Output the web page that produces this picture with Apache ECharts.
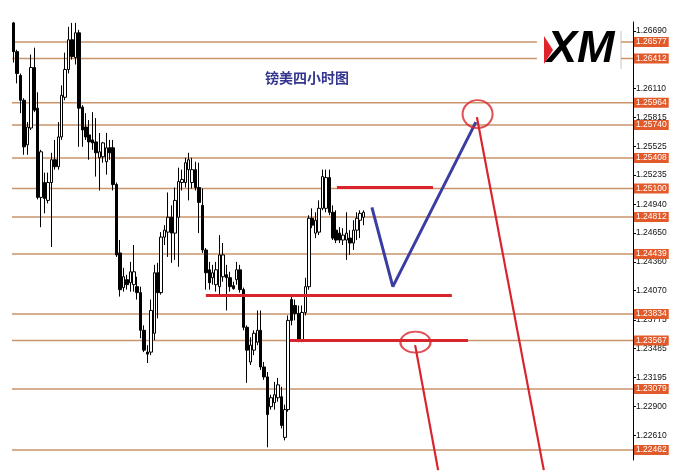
<!DOCTYPE html>
<html><head><meta charset="utf-8">
<script src="https://cdn.jsdelivr.net/npm/echarts@6/dist/echarts.min.js"></script>
<style>html,body{margin:0;padding:0;background:#fff}#c{width:679px;height:476px}</style>
</head><body><div id="c"></div>
<script>
// ---- candle data (GBP/USD, 4-hour) ----
const opens=[1.2677,1.2648,1.2624,1.2599,1.2554,1.2571,1.2632,1.2591,1.2501,1.2516,
1.2498,1.2516,1.2539,1.2532,1.2562,1.2602,1.2630,1.2660,1.2642,1.2667,
1.2592,1.2572,1.2564,1.2559,1.2557,1.2541,1.2542,1.2537,1.2551,1.2551,
1.2514,1.2445,1.2410,1.2418,1.2415,1.2413,1.2411,1.2405,1.2367,1.2345,
1.2345,1.2364,1.2425,1.2405,1.2461,1.2466,1.2481,1.2465,1.2481,1.2516,
1.2516,1.2529,1.2516,1.2529,1.2511,1.2493,1.2448,1.2428,1.2420,1.2413,
1.2411,1.2421,1.2423,1.2420,1.2412,1.2418,1.2428,1.2408,1.2370,1.2335,
1.2347,1.2355,1.2367,1.2330,1.2320,1.2290,1.2294,1.2299,1.2300,1.2259,
1.2287,1.2398,1.2392,1.2384,1.2357,1.2385,1.2411,1.2480,1.2465,1.2466,
1.2490,1.2490,1.2521,1.2486,1.2468,1.2465,1.2458,1.2458,1.2460,1.2455,
1.2468,1.2478,1.2481];
const closes=[1.2648,1.2626,1.2599,1.2552,1.2572,1.2632,1.2589,1.2501,1.2547,1.2500,
1.2516,1.2539,1.2532,1.2562,1.2604,1.2630,1.2660,1.2643,1.2667,1.2591,
1.2569,1.2562,1.2557,1.2556,1.2546,1.2547,1.2556,1.2551,1.2546,1.2514,
1.2443,1.2408,1.2421,1.2413,1.2426,1.2426,1.2405,1.2367,1.2347,1.2343,
1.2387,1.2425,1.2405,1.2461,1.2468,1.2481,1.2465,1.2498,1.2517,1.2519,
1.2536,1.2539,1.2529,1.2511,1.2496,1.2448,1.2425,1.2415,1.2425,1.2428,
1.2443,1.2443,1.2420,1.2411,1.2409,1.2428,1.2408,1.2370,1.2347,1.2352,
1.2364,1.2367,1.2330,1.2320,1.2282,1.2299,1.2302,1.2312,1.2271,1.2287,
1.2377,1.2377,1.2384,1.2357,1.2385,1.2411,1.2480,1.2473,1.2478,1.2490,
1.2522,1.2521,1.2486,1.2460,1.2458,1.2458,1.2463,1.2465,1.2455,1.2468,
1.2480,1.2485,1.2486];
const lows=[1.2637,1.2616,1.2586,1.2544,1.2544,1.2569,1.2587,1.2499,1.2471,1.2485,
1.2495,1.2451,1.2529,1.2529,1.2559,1.2599,1.2626,1.2640,1.2635,1.2552,
1.2552,1.2559,1.2539,1.2549,1.2522,1.2508,1.2536,1.2524,1.2539,1.2508,
1.2441,1.2401,1.2406,1.2408,1.2406,1.2406,1.2398,1.2359,1.2345,1.2334,
1.2342,1.2357,1.2379,1.2403,1.2453,1.2441,1.2435,1.2438,1.2431,1.2508,
1.2511,1.2498,1.2510,1.2508,1.2465,1.2445,1.2408,1.2408,1.2413,1.2406,
1.2403,1.2416,1.2387,1.2406,1.2408,1.2413,1.2405,1.2367,1.2314,1.2332,
1.2342,1.2352,1.2327,1.2317,1.2249,1.2287,1.2287,1.2295,1.2268,1.2256,
1.2285,1.2372,1.2377,1.2355,1.2355,1.2382,1.2408,1.2470,1.2460,1.2463,
1.2488,1.2486,1.2483,1.2458,1.2455,1.2455,1.2453,1.2438,1.2443,1.2448,
1.2458,1.2460,1.2473];
const highs=[1.2678,1.2650,1.2626,1.2601,1.2577,1.2645,1.2652,1.2607,1.2549,1.2526,
1.2526,1.2546,1.2559,1.2577,1.2614,1.2647,1.2673,1.2677,1.2677,1.2670,
1.2594,1.2586,1.2579,1.2587,1.2581,1.2566,1.2557,1.2566,1.2559,1.2559,
1.2516,1.2458,1.2430,1.2423,1.2436,1.2453,1.2421,1.2411,1.2372,1.2352,
1.2398,1.2433,1.2435,1.2466,1.2473,1.2506,1.2493,1.2511,1.2531,1.2529,
1.2541,1.2546,1.2541,1.2537,1.2536,1.2510,1.2450,1.2436,1.2433,1.2436,
1.2463,1.2455,1.2433,1.2426,1.2416,1.2436,1.2433,1.2410,1.2372,1.2360,
1.2367,1.2387,1.2387,1.2335,1.2325,1.2302,1.2315,1.2319,1.2310,1.2292,
1.2382,1.2401,1.2398,1.2392,1.2392,1.2420,1.2483,1.2490,1.2486,1.2498,
1.2529,1.2529,1.2529,1.2493,1.2488,1.2471,1.2470,1.2486,1.2468,1.2478,
1.2486,1.2488,1.2488];
const slotCount=181; // time slots along the x axis (candles + empty projection area)
const priceMin=1.22362, priceMax=1.26779;
const tickValues=[1.26690,1.26110,1.25815,1.25525,1.25235,1.24940,1.24650,1.24360,1.24070,1.23775,1.23485,1.23195,1.22900,1.22610];
const levelValues=[1.26577,1.26412,1.25964,1.25740,1.25408,1.25100,1.24812,1.24439,1.23834,1.23567,1.23079,1.22462];
const brokenLevels=[1.26577,1.26412];          // interrupted by the logo
const logoGap=[152.5,177.0];                    // slot range of the interruption
const redSegments=[[94.2,122.2,1.2511],[56.0,127.7,1.2402],[80.5,132.4,1.23567]];
const bluePath=[[104.4,1.2491],[110.5,1.2411],[134.7,1.2577]];
const arrowPaths=[[[135.0,1.2582],[154.5,1.2226]],[[117.0,1.2352],[123.7,1.2226]]];
const circleCenters=[[135.2,1.2585],[117.1,1.2355]];

const slots=Array.from({length:slotCount},(_,i)=>String(i));
const candles=opens.map((o,i)=>[o,closes[i],lows[i],highs[i]]);
const fmt=v=>v.toFixed(5);
const RED='#D8252C', BLUE='#3B3DA3', LEVEL='#C9956C';
const xEnd=slotCount-0.5;

const series=[];
levelValues.forEach(v=>{
  const segs = brokenLevels.includes(v) ? [[-0.5,logoGap[0]],[logoGap[1],xEnd]] : [[-0.5,xEnd]];
  segs.forEach(s=>series.push({type:'line',xAxisIndex:1,silent:true,symbol:'none',z:1,
    lineStyle:{color:LEVEL,width:1.5},data:[[s[0],v],[s[1],v]]}));
});
series.push({type:'candlestick',xAxisIndex:0,data:candles,barWidth:3,z:2,silent:true,
  itemStyle:{color:'#ffffff',color0:'#000000',borderColor:'#000000',borderColor0:'#000000',borderWidth:1}});
redSegments.forEach(s=>series.push({type:'line',xAxisIndex:1,silent:true,symbol:'none',z:4,
  lineStyle:{color:RED,width:3},data:[[s[0],s[2]],[s[1],s[2]]]}));
series.push({type:'line',xAxisIndex:1,silent:true,symbol:'none',z:4,lineStyle:{color:BLUE,width:3},data:bluePath});
arrowPaths.forEach(p=>series.push({type:'line',xAxisIndex:1,silent:true,symbol:'none',z:4,clip:false,
  lineStyle:{color:RED,width:2.2},data:p}));
const circleSizes=[[30,28],[30,21]];
series.push({type:'scatter',xAxisIndex:1,silent:true,z:5,symbol:'circle',
  itemStyle:{color:'rgba(0,0,0,0)',borderColor:RED,borderWidth:2},
  data:circleCenters.map((c,i)=>({value:c,symbolSize:circleSizes[i]}))});

const chart=echarts.init(document.getElementById('c'),null,{renderer:'canvas'});
chart.setOption({
  animation:false,
  backgroundColor:'#ffffff',
  grid:{left:12,right:46,top:22,bottom:16,containLabel:false,outerBoundsMode:'none'},
  xAxis:[{type:'category',data:slots,show:false,boundaryGap:true},
         {type:'value',min:-0.5,max:xEnd,show:false}],
  yAxis:[{type:'value',position:'right',min:priceMin,max:priceMax,
          axisLine:{show:true,onZero:false,lineStyle:{color:'#000',width:1}},
          axisTick:{show:true,length:3,customValues:tickValues,lineStyle:{color:'#000'}},
          axisLabel:{customValues:tickValues,formatter:fmt,fontSize:8.5,color:'#111',margin:3,fontFamily:'Liberation Sans'},
          splitLine:{show:false}},
         {type:'value',position:'right',min:priceMin,max:priceMax,z:6,
          axisLine:{show:false,onZero:false},axisTick:{show:false},splitLine:{show:false},
          axisLabel:{customValues:levelValues,formatter:fmt,fontSize:8.5,color:'#ffffff',margin:1,
            fontFamily:'Liberation Sans',backgroundColor:'#E2592A',padding:[1,2,0,2]}}],
  graphic:[
    {type:'text',left:265,top:71,style:{text:'镑美四小时图',font:'bold 14px "Noto Sans CJK SC"',fill:'#34368F'}},
    {type:'polygon',shape:{points:[[544,36],[553,50],[544,64]]},style:{fill:'#E0242B'}},
    {type:'text',x:547,y:50,style:{text:'XM',font:'italic bold 45px "Liberation Sans"',fill:'#000',textVerticalAlign:'middle'}},
    {type:'line',shape:{x1:621,y1:31,x2:621,y2:69},style:{stroke:'#C8C8C8',lineWidth:1}}
  ],
  series:series
});
</script></body></html>
